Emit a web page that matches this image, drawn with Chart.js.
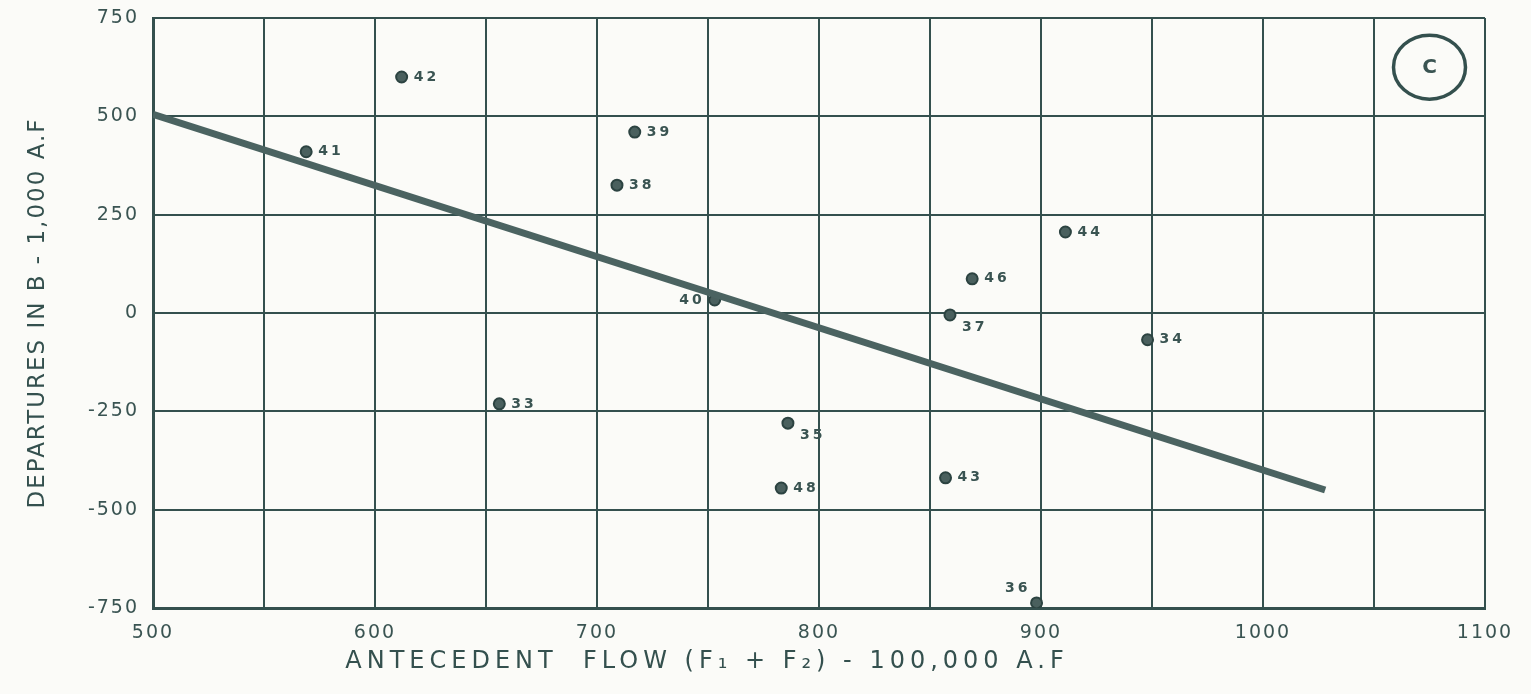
<!DOCTYPE html>
<html>
<head>
<meta charset="utf-8">
<title>Departures in B vs Antecedent Flow</title>
<script src="https://cdn.jsdelivr.net/npm/chart.js@4/dist/chart.umd.min.js"></script>
<style>
  html, body { margin: 0; padding: 0; background: #fbfbf8; }
  #wrap { width: 1531px; height: 694px; position: relative; }
</style>
</head>
<body>
<div id="wrap"><canvas id="chart"></canvas></div>
<script>
// data
const years   = ['42', '41', '39', '38', '40', '46', '37', '44', '34', '33', '35', '48', '43', '36'];
const flow    = [612, 569, 717, 709, 753, 869, 859, 911, 948, 656, 786, 783, 857, 898];
const depart  = [600, 410, 460, 325, 33, 87, -5, 206, -68, -231, -280, -445, -419, -737];

// fitted line end points
const fitX = [500, 1028];
const fitY = [505, -450];

const xTickLabels = ['500', '600', '700', '800', '900', '1000', '1100'];
const yTickValues = [-750, -500, -250, 0, 250, 500, 750];

const ink = '#34504e';
const inkSoft = '#3a5452';

// where each year label sits relative to its point
const labelPlace = { '40': 'left', '37': 'below', '35': 'below', '36': 'aboveLeft' };

const pointLabels = {
    id: 'pointLabels',
    beforeDraw(chart) { chart.ctx.letterSpacing = '2px'; },
    afterDatasetsDraw(chart) {
        const ctx = chart.ctx;
        const meta = chart.getDatasetMeta(1);
        ctx.save();
        ctx.letterSpacing = '3px';
        ctx.font = 'bold 14px "DejaVu Sans"';
        ctx.fillStyle = inkSoft;
        ctx.textBaseline = 'middle';
        meta.data.forEach((pt, i) => {
            const lbl = years[i];
            const place = labelPlace[lbl] || 'right';
            let x = pt.x + 12, y = pt.y;
            ctx.textAlign = 'left';
            if (place === 'left') { ctx.textAlign = 'right'; x = pt.x - 10; }
            if (place === 'below') { x = pt.x + 12; y = pt.y + 12; }
            if (place === 'aboveLeft') { ctx.textAlign = 'right'; x = pt.x - 6; y = pt.y - 15; }
            ctx.fillText(lbl, x, y);
        });

        // circled C in the top right cell
        const xs = chart.scales.x, ys = chart.scales.y;
        const cx = xs.getPixelForValue(1075), cy = ys.getPixelForValue(625);
        ctx.strokeStyle = ink;
        ctx.lineWidth = 3.5;
        ctx.beginPath();
        ctx.ellipse(cx, cy, 36, 32, 0, 0, Math.PI * 2);
        ctx.stroke();
        ctx.letterSpacing = '0px';
        ctx.font = 'bold 20px "DejaVu Sans"';
        ctx.textAlign = 'center';
        ctx.fillText('C', cx, cy + 1);

        // x axis caption
        ctx.letterSpacing = '5px';
        ctx.font = '24px "DejaVu Sans"';
        ctx.fillStyle = ink;
        ctx.fillText('ANTECEDENT  FLOW (F\u2081 + F\u2082) - 100,000 A.F', 707, 662);
        ctx.restore();
    },
    afterDraw(chart) { chart.ctx.letterSpacing = '0px'; }
};

new Chart(document.getElementById('chart'), {
    type: 'scatter',
    data: {
        datasets: [{
            type: 'line',
            data: fitX.map((x, i) => ({ x, y: fitY[i] })),
            borderColor: '#4b6361',
            borderWidth: 7,
            pointRadius: 0,
            fill: false
        }, {
            data: flow.map((x, i) => ({ x, y: depart[i] })),
            pointRadius: 5.5,
            pointBackgroundColor: '#4a605e',
            pointBorderColor: '#2c4341',
            pointBorderWidth: 2
        }]
    },
    options: {
        responsive: true,
        maintainAspectRatio: false,
        animation: false,
        layout: { padding: { top: 18, right: 46, left: 0, bottom: 0 } },
        plugins: { legend: { display: false }, tooltip: { enabled: false } },
        scales: {
            x: {
                type: 'linear',
                min: 500, max: 1100,
                afterFit: s => { s.height = 86; s.paddingLeft = 0; s.paddingRight = 0; },
                afterBuildTicks: s => { s.ticks = []; for (let v = 500; v <= 1100; v += 50) s.ticks.push({ value: v }); },
                ticks: {
                    padding: 14,
                    color: inkSoft,
                    font: { family: 'DejaVu Sans', size: 19 },
                    maxRotation: 0,
                    autoSkip: false,
                    callback: v => (v % 100 === 0 ? xTickLabels[(v - 500) / 100] : '')
                },
                grid: { color: ink, lineWidth: 2, drawTicks: false },
                border: { color: ink, width: 3 }
            },
            y: {
                type: 'linear',
                min: -750, max: 750,
                afterFit: s => { s.width = 153; s.paddingTop = 0; s.paddingBottom = 0; },
                afterBuildTicks: s => { s.ticks = yTickValues.map(v => ({ value: v })); },
                ticks: {
                    padding: 14,
                    color: inkSoft,
                    font: { family: 'DejaVu Sans', size: 19 },
                    callback: v => String(v)
                },
                grid: { color: ink, lineWidth: 2, drawTicks: false },
                border: { color: ink, width: 3 },
                title: {
                    display: true,
                    text: 'DEPARTURES IN B - 1,000 A.F',
                    color: ink,
                    font: { family: 'DejaVu Sans', size: 23 },
                    padding: { top: 24, bottom: 24 }
                }
            }
        }
    },
    plugins: [pointLabels]
});
</script>
</body>
</html>
